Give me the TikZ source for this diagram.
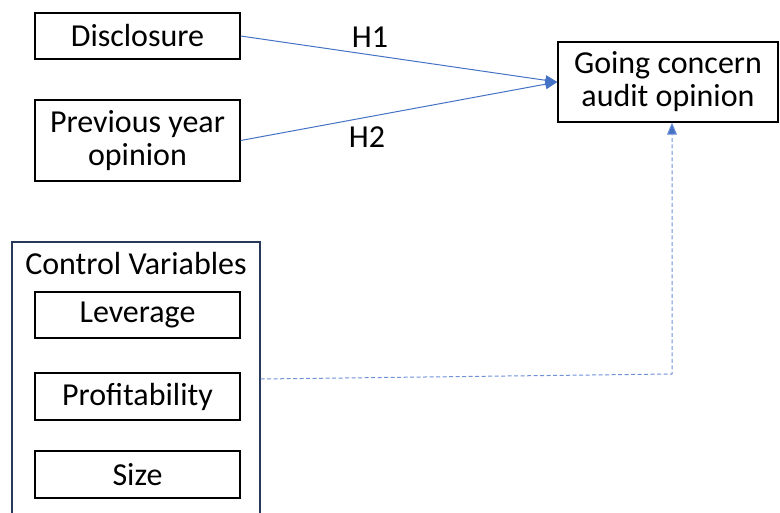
\documentclass[tikz,border=0pt]{standalone}
\usepackage{fontspec}
\setmainfont{Carlito}
\usetikzlibrary{arrows.meta}
\definecolor{arrowblue}{RGB}{68,114,196}
\definecolor{dotblue}{RGB}{110,145,215}
\definecolor{navy}{RGB}{40,56,88}
\begin{document}
\begin{tikzpicture}[x=1pt,y=-1pt,
  txt/.style={font=\fontsize{32}{33}\selectfont},
  box/.style={draw=black,line width=1.4pt,rectangle,inner sep=0pt,align=center,txt},
  link/.style={draw=arrowblue,line width=1pt,-{Triangle[length=12pt,width=10pt]}},
  dotlink/.style={draw=dotblue,line width=1pt,dash pattern=on 4pt off 2.5pt,-{Triangle[length=12pt,width=10pt,fill=arrowblue]}}]
\useasboundingbox (0,0) rectangle (780,513);
\node[box,minimum width=205pt,minimum height=46pt] (disc) at (137.5,36) {Disclosure};
\node[box,minimum width=205pt,minimum height=81pt] (prev) at (137.5,140.5) {Previous year\\opinion};
\node[box,minimum width=220pt,minimum height=80pt] (gc) at (668,82) {Going concern\\audit opinion};
\node[draw=navy,line width=1.4pt,rectangle,inner sep=0pt,minimum width=248pt,minimum height=274pt] (ctrl) at (136,379) {};
\node[txt] (ctrltitle) at (136,264) {Control Variables};
\node[box,minimum width=205pt,minimum height=46pt] (lev) at (137.5,315) {Leverage};
\node[box,minimum width=205pt,minimum height=47pt] (prof) at (137.5,396.5) {Profitability};
\node[box,minimum width=205pt,minimum height=47pt] (size) at (137.5,474.5) {Size};
\node[txt] (h1) at (370,37) {H1};
\node[txt] (h2) at (367,137) {H2};
\coordinate (corner) at (672,374);
\draw[link] (disc.east) -- (gc.west);
\draw[link] (prev.east) -- (gc.west);
\draw[dotlink] (ctrl.east) -- (corner) -- (corner |- gc.south);
\end{tikzpicture}
\end{document}
